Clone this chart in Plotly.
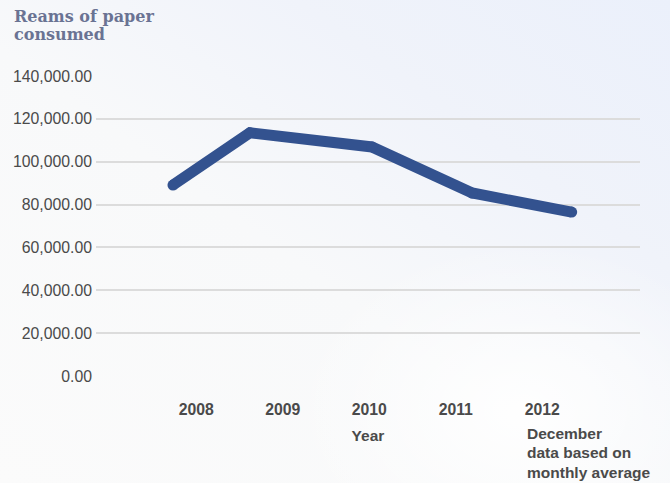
import base64
import plotly.graph_objects as go

# Data
years = [2007.73, 2008.62, 2010.03, 2011.19, 2012.34]   # where each point sits on the year axis
reams = [89100, 113500, 106900, 85400, 76500]
tick_years = [2008, 2009, 2010, 2011, 2012]
tick_labels = ["2008", "2009", "2010", "2011", "2012"]
y_ticks = [0, 20000, 40000, 60000, 80000, 100000, 120000, 140000]
title_lines = ["Reams of paper", "consumed"]
note_lines = ["December", "data based on", "monthly average"]

W, H = 670, 483
ML, MR, MT, MB = 96, 30, 76, 107
PW, PH = W - ML - MR, H - MT - MB

svg = f'''<svg xmlns="http://www.w3.org/2000/svg" width="{W}" height="{H}" viewBox="0 0 {W} {H}" preserveAspectRatio="none">
<defs>
<linearGradient id="g" x1="0" y1="1" x2="1" y2="0">
<stop offset="0" stop-color="#fbfbfb"/>
<stop offset="0.45" stop-color="#f8f9fa"/>
<stop offset="0.72" stop-color="#f0f3fa"/>
<stop offset="1" stop-color="#ebf0fb"/>
</linearGradient>
<radialGradient id="r" cx="0.78" cy="0.85" r="0.35">
<stop offset="0" stop-color="#ffffff" stop-opacity="0.9"/>
<stop offset="1" stop-color="#ffffff" stop-opacity="0"/>
</radialGradient>
</defs>
<rect width="{W}" height="{H}" fill="url(#g)"/>
<rect width="{W}" height="{H}" fill="url(#r)"/>
</svg>'''
src = "data:image/svg+xml;base64," + base64.b64encode(svg.encode()).decode()

fig = go.Figure()
fig.add_trace(go.Scatter(
    x=years, y=reams, mode="lines+markers",
    line=dict(color="#33528f", width=11),
    marker=dict(color="#33528f", size=11),
    hoverinfo="skip", showlegend=False,
))

fig.add_layout_image(dict(
    source=src, xref="paper", yref="paper",
    x=-ML / PW, y=1 + MT / PH, sizex=W / PW, sizey=H / PH,
    sizing="stretch", xanchor="left", yanchor="top", layer="below",
))

fig.update_layout(
    width=W, height=H,
    margin=dict(l=ML, r=MR, t=MT, b=MB),
    paper_bgcolor="#f8f9fa", plot_bgcolor="rgba(0,0,0,0)",
    font=dict(family="Liberation Sans, Arial, sans-serif", color="#4a4a4a"),
    xaxis=dict(
        range=[2006.84, 2013.13], tickvals=tick_years, ticktext=tick_labels,
        showgrid=False, zeroline=False, showline=False, ticks="",
        tickfont=dict(size=15.8, weight="bold", color="#4a4a4a"),
        ticklabelstandoff=22,
        title=dict(text="<b>Year</b>", font=dict(size=15.5, color="#4a4a4a"), standoff=13),
    ),
    yaxis=dict(
        range=[0, 140000], tickvals=y_ticks, tickformat=",.2f",
        showgrid=True, gridcolor="#dcdcdc", gridwidth=1.5,
        zeroline=False, showline=False, ticks="",
        tickfont=dict(size=15.8, color="#4a4a4a"),
        ticklabelstandoff=3,
    ),
)

for i, t in enumerate(title_lines):
    fig.add_annotation(
        text=f"<b>{t}</b>", xref="paper", yref="paper",
        x=-(ML - 12) / PW, y=1 + (MT - 16 - 19 * i) / PH,
        xanchor="left", yanchor="middle", showarrow=False,
        font=dict(family="DejaVu Serif, Liberation Serif, serif", size=16, color="#6a7393"),
    )

for i, t in enumerate(note_lines):
    fig.add_annotation(
        text=f"<b>{t}</b>", xref="paper", yref="paper",
        x=(525 - ML) / PW, y=-(433 - MT - PH + 19.5 * i) / PH,
        xanchor="left", yanchor="middle", showarrow=False,
        font=dict(size=15.5, color="#4a4a4a"),
    )

fig.write_html("out.html", config={"displayModeBar": False},
               post_script="document.body.style.margin='0';")
